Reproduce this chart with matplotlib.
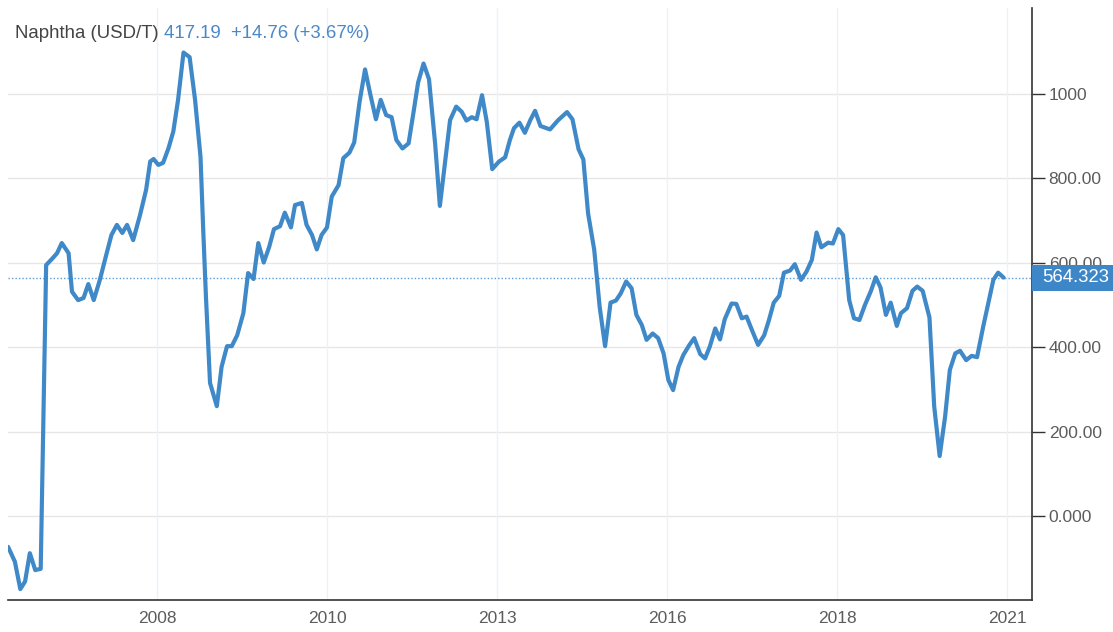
"""Naphtha (USD/T) price line chart."""

import numpy as np
import matplotlib
matplotlib.use("Agg")
import matplotlib.pyplot as plt
import matplotlib.transforms as mtransforms
from matplotlib.patches import Rectangle


# =============================================================================
# Data (decimal years, USD/T)
years = [
    2005.81, 2005.91, 2005.99, 2006.06, 2006.13, 2006.21, 2006.29, 2006.37,
    2006.47, 2006.53, 2006.60, 2006.70, 2006.75, 2006.84, 2006.92, 2006.99,
    2007.07, 2007.16, 2007.26, 2007.33, 2007.41, 2007.49, 2007.56, 2007.65,
    2007.75, 2007.84, 2007.90, 2007.95, 2008.02, 2008.09, 2008.17, 2008.24,
    2008.31, 2008.39, 2008.48, 2008.56, 2008.64, 2008.68, 2008.72, 2008.78,
    2008.88, 2008.95, 2009.03, 2009.10, 2009.18, 2009.27, 2009.34, 2009.42,
    2009.49, 2009.57, 2009.65, 2009.72, 2009.81, 2009.88, 2009.97, 2010.03,
    2010.13, 2010.20, 2010.28, 2010.35, 2010.42, 2010.50, 2010.57, 2010.67,
    2010.74, 2010.83, 2010.90, 2010.98, 2011.06, 2011.14, 2011.22, 2011.29,
    2011.37, 2011.45, 2011.52, 2011.61, 2011.70, 2011.77, 2011.84, 2011.92,
    2012.00, 2012.09, 2012.16, 2012.24, 2012.31, 2012.40, 2012.48, 2012.55,
    2012.63, 2012.70, 2012.78, 2012.85, 2012.93, 2013.03, 2013.12, 2013.19,
    2013.25, 2013.33, 2013.41, 2013.49, 2013.56, 2013.64, 2013.78, 2013.90,
    2014.03, 2014.11, 2014.20, 2014.27, 2014.34, 2014.43, 2014.51, 2014.59,
    2014.67, 2014.75, 2014.82, 2014.90, 2014.98, 2015.05, 2015.13, 2015.20,
    2015.29, 2015.37, 2015.45, 2015.52, 2015.59, 2015.67, 2015.74, 2015.83,
    2015.90, 2015.99, 2016.06, 2016.13, 2016.21, 2016.28, 2016.35, 2016.45,
    2016.52, 2016.60, 2016.67, 2016.76, 2016.84, 2016.93, 2017.00, 2017.07,
    2017.15, 2017.22, 2017.31, 2017.38, 2017.47, 2017.55, 2017.63, 2017.70,
    2017.77, 2017.87, 2017.94, 2018.02, 2018.09, 2018.14, 2018.18, 2018.25,
    2018.33, 2018.41, 2018.50, 2018.57, 2018.64, 2018.72, 2018.79, 2018.88,
    2018.94, 2019.03, 2019.11, 2019.18, 2019.26, 2019.36, 2019.43, 2019.51,
    2019.59, 2019.66, 2019.74, 2019.81, 2019.90, 2019.98, 2020.06, 2020.15,
    2020.23, 2020.30, 2020.37, 2020.45,
]
price = [
    -73, -108, -173, -155, -88, -128, -125, 594,
    611, 622, 646, 622, 531, 511, 516, 549,
    511, 559, 622, 665, 689, 670, 689, 653,
    712, 772, 839, 845, 831, 836, 871, 910,
    985, 1097, 1086, 985, 850, 677, 519, 315,
    260, 353, 402, 402, 428, 480, 575, 561,
    646, 600, 637, 679, 686, 718, 683, 736,
    741, 689, 665, 631, 665, 683, 756, 783,
    847, 860, 884, 981, 1057, 996, 939, 985,
    949, 944, 890, 870, 882, 953, 1026, 1071,
    1034, 882, 734, 843, 937, 969, 957, 936,
    944, 939, 996, 933, 821, 839, 849, 890,
    918, 931, 907, 937, 959, 923, 915, 937,
    956, 939, 868, 844, 716, 630, 495, 402,
    505, 510, 527, 555, 539, 476, 452, 417,
    432, 421, 385, 322, 298, 353, 381, 405,
    421, 383, 373, 401, 444, 418, 466, 503,
    502, 468, 472, 436, 405, 428, 464, 505,
    521, 576, 581, 596, 559, 578, 606, 671,
    636, 647, 645, 679, 665, 578, 511, 468,
    464, 499, 533, 565, 541, 476, 505, 450,
    480, 492, 533, 543, 533, 470, 259, 142,
    235, 346, 385, 391, 369, 379, 376, 448,
    507, 559, 576, 564.323,
]
last_value = 564.323

ytick_values = [0, 200, 400, 600, 800, 1000]
ytick_labels = ["0.000", "200.00", "400.00", "600.00", "800.00", "1000"]
xtick_values = [2008.0, 2010.5, 2013.0, 2015.5, 2018.0, 2020.5]
xtick_labels = ["2008", "2010", "2013", "2016", "2018", "2021"]

# =============================================================================
plt.rcParams["font.family"] = ["Liberation Sans", "DejaVu Sans"]

line_color = "#3f89c9"
text_gray = "#5c5c5c"
W, H = 1113, 632

fig = plt.figure(figsize=(W / 100, H / 100), dpi=100)
ax = fig.add_axes([8 / W, 1 - 600 / H, 1024 / W, 592 / H])

ax.plot(years, price, color=line_color, lw=3, solid_joinstyle="round",
        solid_capstyle="round", zorder=3)
ax.axhline(last_value, color="#5b9bd5", lw=1, ls=(0, (1, 1.5)), zorder=2)

ymin, ymax = -198.8, 1202.4
ax.set_xlim(2005.809, 2020.868)
ax.set_ylim(ymin, ymax)

# grid
for v in ytick_values:
    ax.axhline(v, color="#e6e6e6", lw=1, zorder=1)
for v in xtick_values:
    ax.axvline(v, color="#eef2f6", lw=1, zorder=1)

# spines
for side in ["left", "top"]:
    ax.spines[side].set_visible(False)
ax.spines["right"].set_color("#333333")
ax.spines["bottom"].set_color("#333333")
ax.spines["right"].set_linewidth(1.2)
ax.spines["bottom"].set_linewidth(1.2)

ax.yaxis.tick_right()
ax.set_yticks(ytick_values)
ax.set_yticklabels(ytick_labels)
ax.tick_params(axis="y", direction="out", length=9, width=1, color="#333333",
               labelsize=12.5, labelcolor=text_gray, pad=3)
ax.set_xticks(xtick_values)
ax.set_xticklabels(xtick_labels)
ax.tick_params(axis="x", length=0, labelsize=12.5, labelcolor=text_gray, pad=8)

# last value box on the right axis
trans = mtransforms.blended_transform_factory(ax.transAxes, ax.transData)
px_to_data = (ymax - ymin) / 592
box_h = 26 * px_to_data
ax.add_patch(Rectangle((1.0, last_value - box_h / 2), (W - 8) / 1024 - 1.0,
                       box_h, transform=trans, fc="#3d87c9", ec="none",
                       clip_on=False, zorder=5))
ax.text((1042 - 8) / 1024, last_value, "564.323", transform=trans,
        ha="left", va="center", color="white", fontsize=13.3, zorder=6,
        clip_on=False)

# title
t1 = fig.text(15 / W, 1 - 33 / H, "Naphtha (USD/T)", color="#444444",
              fontsize=13.4, va="center", ha="left")
ax.annotate(" 417.19  +14.76 (+3.67%)", xy=(1, 0.5), xycoords=t1,
            va="center", ha="left", color="#4a88c9", fontsize=13.4,
            annotation_clip=False)

fig.savefig("out.png", dpi=100)
